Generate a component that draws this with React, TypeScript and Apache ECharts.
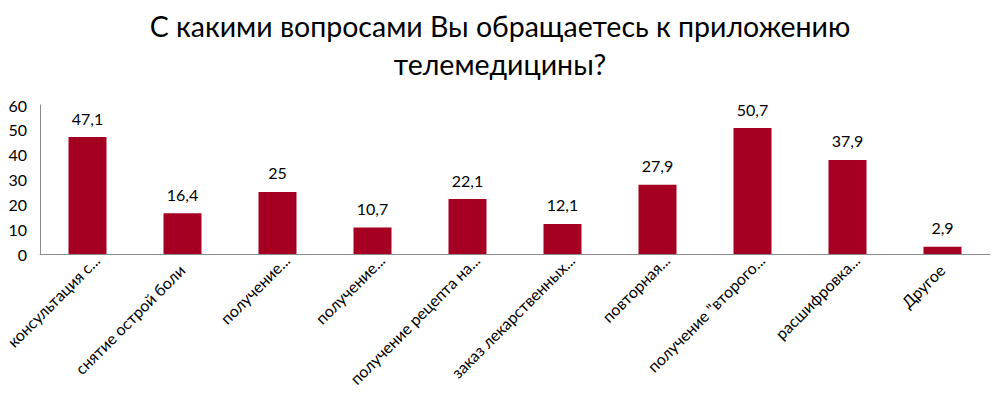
import React, { useEffect, useRef } from "react";
import * as echarts from "echarts";

const titleText = "С какими вопросами Вы обращаетесь к приложению\nтелемедицины?";
const categories = [
  "консультация с...",
  "снятие острой боли",
  "получение...",
  "получение...",
  "получение рецепта на...",
  "заказ лекарственных...",
  "повторная...",
  "получение \"второго...",
  "расшифровка...",
  "Другое",
];
const values = [47.1, 16.4, 25, 10.7, 22.1, 12.1, 27.9, 50.7, 37.9, 2.9];
const yMin = 0;
const yMax = 60;
const yStep = 10;

const FONT = "Lato, 'Open Sans', sans-serif";

export default function App() {
  const ref = useRef<HTMLDivElement>(null);
  useEffect(() => {
    if (!ref.current) return;
    const chart = echarts.init(ref.current, null, { renderer: "svg" });
    chart.setOption({
      animation: false,
      backgroundColor: "#ffffff",
      title: {
        text: titleText,
        left: "center",
        top: 2,
        textStyle: {
          fontFamily: FONT,
          fontSize: 28.5,
          fontWeight: "normal",
          color: "#000000",
          lineHeight: 38,
        },
      },
      grid: {
        left: 40,
        right: 10,
        top: 105,
        bottom: 149,
        containLabel: false,
        outerBoundsMode: "none",
      },
      xAxis: {
        type: "category",
        data: categories,
        axisLine: { show: true, lineStyle: { color: "#8c8c8c", width: 1 } },
        axisTick: { show: false },
        axisLabel: {
          rotate: 45,
          interval: 0,
          margin: -6,
          verticalAlign: "top",
          fontFamily: FONT,
          fontSize: 16,
          color: "#000000",
          formatter: (v: string) =>
            v.endsWith("...") ? `{e|${v}}` : `{n|${v}}`,
          rich: {
            e: {
              fontFamily: FONT,
              fontSize: 16,
              lineHeight: 16,
              color: "#000000",
              padding: [10, 0, 0, 0],
            },
            n: {
              fontFamily: FONT,
              fontSize: 16,
              lineHeight: 16,
              color: "#000000",
              padding: [10, 14, 0, 0],
            },
          },
        },
      },
      yAxis: {
        type: "value",
        min: yMin,
        max: yMax,
        interval: yStep,
        splitLine: { show: false },
        axisLine: { show: true, lineStyle: { color: "#8c8c8c", width: 1 } },
        axisTick: { show: false },
        axisLabel: {
          margin: 13,
          fontFamily: FONT,
          fontSize: 16,
          color: "#000000",
        },
      },
      series: [
        {
          type: "bar",
          data: values,
          barWidth: "40%",
          itemStyle: { color: "#A50021" },
          label: {
            show: true,
            position: "top",
            distance: 11,
            fontFamily: FONT,
            fontSize: 16,
            color: "#000000",
            formatter: (p: any) => String(p.value).replace(".", ","),
          },
        },
      ],
    });
    return () => chart.dispose();
  }, []);
  return <div ref={ref} style={{ width: 1000, height: 403, margin: -8 }} />;
}
